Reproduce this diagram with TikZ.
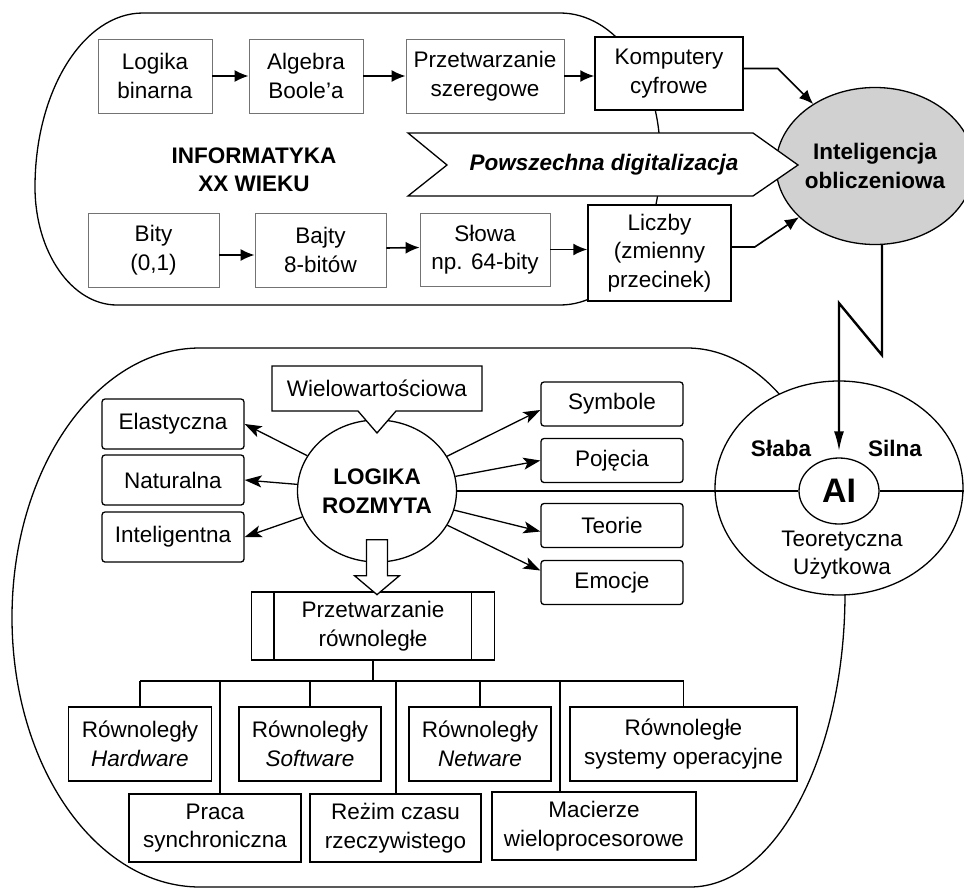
\documentclass[tikz,border=0pt]{standalone}
\usepackage{fontspec}
\setmainfont{Liberation Sans}
\usetikzlibrary{arrows.meta,shapes.geometric,shapes.callouts}
\newcommand\dfont{\fontsize{22.5}{28.5}\selectfont}

\begin{document}
\begin{tikzpicture}[x=1pt,y=-1pt,font=\dfont,line width=1.3pt,
  gbox/.style={draw=black!55,line width=0.8pt,fill=white,align=center,inner sep=0pt,minimum width=114pt,minimum height=74pt},
  kbox/.style={draw,line width=1.5pt,fill=white,align=center,inner sep=0pt},
  rbox/.style={draw,rounded corners=3pt,fill=white,inner sep=0pt,minimum width=142pt},
  tbox/.style={draw,fill=white,align=center,inner sep=0pt,minimum height=74pt},
  tarrow/.style={-{Latex[length=14pt,width=12pt]},line width=1.6pt},
  sarrow/.style={-{Stealth[length=17pt,width=12pt,inset=4pt]}},
  bolt/.style={-{Latex[length=20pt,width=10pt]},line width=2.4pt}]
\useasboundingbox (0,0) rectangle (964,889);

% obrysy obu czesci
\draw (143,13) -- (560,13) arc[start angle=270,end angle=360,x radius=100,y radius=140]
  -- (660,165) arc[start angle=0,end angle=90,x radius=100,y radius=140]
  -- (117,305) arc[start angle=90,end angle=180,x radius=82,y radius=118]
  -- (35,187) arc[start angle=180,end angle=270,x radius=108,y radius=174] -- cycle;
\draw (200,348) -- (687,348) arc[start angle=270,end angle=360,x radius=158,y radius=245]
  arc[start angle=0,end angle=90,x radius=155,y radius=294]
  -- (200,887) arc[start angle=90,end angle=270,x radius=188,y radius=269.5] -- cycle;

% informatyka XX wieku
\node[gbox] (logika) at (155,76) {Logika\\binarna};
\node[gbox] (algebra) at (306,76) {Algebra\\Boole'a};
\node[gbox,minimum width=158pt] (szereg) at (485,76) {Przetwarzanie\\szeregowe};
\node[kbox,minimum width=148pt,minimum height=73pt] (komp) at (669,73.5) {Komputery\\cyfrowe};
\node[gbox,minimum width=131pt] (bity) at (153.5,250) {Bity\\(0,1)};
\node[gbox,minimum width=131pt] (bajty) at (320.5,250) {Bajty\\8-bitów};
\node[gbox,minimum width=130pt,minimum height=73pt] (slowa) at (485,249.5) {Słowa\\np. 64-bity};
\node[kbox,minimum width=143pt,minimum height=96pt] (liczby) at (659.5,253) {Liczby\\(zmienny\\przecinek)};
\node[font=\dfont\bfseries,align=center] (xxwiek) at (254,170) {INFORMATYKA\\XX WIEKU};

\node[ellipse,draw,fill=black!18,minimum width=176pt,minimum height=157pt,inner sep=0pt,
  align=center,font=\dfont\bfseries] (intel) at (875,166) {Inteligencja\\obliczeniowa};

\draw[fill=white] (408,133) -- (753,133) -- (798,165) -- (753,196) -- (408,196) -- (447,165) -- cycle;
\node[font=\dfont\bfseries\itshape] (digit) at (604,165) {Powszechna digitalizacja};

\draw[tarrow] (logika) -- (algebra);
\draw[tarrow] (algebra) -- (szereg);
\draw[tarrow] (szereg.east) -- (szereg.east -| komp.west);
\draw[tarrow] ([yshift=-5pt]bity.east) -- ([yshift=-5pt]bajty.west);
\draw[tarrow] ([yshift=2pt]bajty.east) -- ([yshift=2pt]slowa.west);
\draw[tarrow] (slowa.east) -- (slowa.east -| liczby.west);
\draw[tarrow] ([yshift=5pt]komp.east) -- ++(34,0) -- (intel);
\draw[tarrow] ([yshift=6pt]liczby.east) -- ++(23,0) -- (intel);

% logika rozmyta
\node[ellipse,draw,fill=white,minimum width=159pt,minimum height=142pt,inner sep=0pt,
  align=center,font=\dfont\bfseries] (rozmyta) at (377,491) {LOGIKA\\ROZMYTA};
\node[rectangle callout,draw,fill=white,minimum width=210pt,minimum height=45pt,inner sep=0pt,
  callout absolute pointer={(377,433)},callout pointer width=38pt] (wielo) at (377,388.5) {Wielowartościowa};

\node[rbox,minimum height=50pt] (elast) at (173,424) {Elastyczna};
\node[rbox,minimum height=50pt] (natur) at (173,480) {Naturalna};
\node[rbox,minimum height=50pt] (intgt) at (173,537) {Inteligentna};
\node[rbox,minimum height=44pt] (symbole) at (612,404) {Symbole};
\node[rbox,minimum height=44pt] (pojecia) at (612,460.5) {Pojęcia};
\node[rbox,minimum height=44pt] (teorie) at (612,525.5) {Teorie};
\node[rbox,minimum height=44pt] (emocje) at (612,582.5) {Emocje};

\foreach \n in {elast,natur,intgt}
  \draw[sarrow] (rozmyta) -- (\n.east);
\draw[sarrow] (rozmyta) -- ([yshift=-6pt]symbole.west);
\draw[sarrow] (rozmyta) -- (pojecia.west);
\draw[sarrow] (rozmyta) -- ([yshift=-6pt]teorie.west);
\draw[sarrow] (rozmyta) -- ([yshift=12pt]emocje.west);

\node[draw,fill=white,align=center,minimum width=243pt,minimum height=68pt,inner sep=0pt] (przetw) at (373,626) {Przetwarzanie\\równoległe};
\draw ([xshift=23pt]przetw.north west) -- ([xshift=23pt]przetw.south west);
\draw ([xshift=-24pt]przetw.north east) -- ([xshift=-24pt]przetw.south east);
\draw[fill=white] ([shift={(-10.5pt,23pt)}]rozmyta.south) -- ++(0,36) -- ++(-12,0) -- ++(22.5,19)
  -- ++(22.5,-19) -- ++(-12,0) -- ++(0,-36) -- cycle;

\node[tbox,minimum width=143pt] (hw) at (140,744) {Równoległy\\\textit{Hardware}};
\node[tbox,minimum width=142pt] (sw) at (310,744) {Równoległy\\\textit{Software}};
\node[tbox,minimum width=142pt] (netw) at (480,744) {Równoległy\\\textit{Netware}};
\node[tbox,minimum width=227pt] (sysop) at (683.5,744) {Równoległe\\systemy operacyjne};
\node[tbox,minimum width=172pt,minimum height=68pt] (praca) at (215,828) {Praca\\synchroniczna};
\node[tbox,minimum width=171pt,minimum height=68pt] (rezim) at (395.5,828) {Reżim czasu\\rzeczywistego};
\node[tbox,minimum width=204pt,minimum height=68pt] (macierz) at (594,826) {Macierze\\wieloprocesorowe};

\draw (przetw.south) -- (przetw.south |- 0,681);
\draw (hw.north |- 0,681) -- (sysop.north |- 0,681);
\foreach \n in {hw,sw,netw,sysop}
  \draw (\n.north) -- (\n.north |- 0,681);
\foreach \n/\x in {praca/220,rezim/396,macierz/560}
  \draw (\n.north -| \x,0) -- (\x,681);

% AI
\node[ellipse,draw,fill=white,minimum width=248pt,minimum height=214pt] (ai) at (839,488) {};
\node[ellipse,draw,fill=white,minimum width=80pt,minimum height=66pt,inner sep=0pt,
  font=\fontsize{34}{34}\selectfont\bfseries] (aicore) at (839,491) {AI};
\node[font=\dfont\bfseries] (slaba) at (781,448) {Słaba};
\node[font=\dfont\bfseries] (silna) at (895,448) {Silna};
\node[align=center] (zastos) at (842,555) {Teoretyczna\\Użytkowa};
\draw (rozmyta.east) -- (aicore.west);
\draw (aicore.east) -- (aicore.east -| ai.east);

\draw[bolt] ([xshift=7pt]intel.south) -- ++(0,110) -- ++(-43,-52) -- ([yshift=6pt]aicore.north);
\end{tikzpicture}
\end{document}
